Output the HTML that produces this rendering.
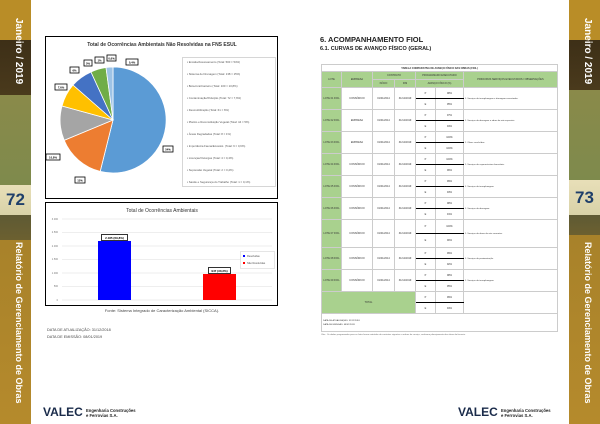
<!DOCTYPE html><html><head><meta charset="utf-8"><style>
*{margin:0;padding:0;box-sizing:border-box}
body{width:600px;height:424px;background:#fff;position:relative;overflow:hidden;font-family:"Liberation Sans",sans-serif;color:#333}
.sb{position:absolute;top:0;width:31px;height:424px;overflow:hidden}
.vt{position:absolute;color:#fff;font-weight:bold;white-space:nowrap;transform-origin:0 0;transform:rotate(90deg)}
.pg{position:absolute;color:#1f3f6a;font-weight:bold;font-size:17px}
.a{position:absolute}
table{border-collapse:collapse;position:absolute;left:321px;top:64px;width:237px;font-size:2.5px}
td{border:0.5px solid #ccc;text-align:center;vertical-align:middle;padding:0;color:#333}
.g{background:#a9d18e}
.t{text-align:left;font-size:2.2px;padding-left:1px}
</style></head><body>
<div class="sb" style="left:0;background:linear-gradient(180deg,#b98d27 0,#b98d27 40px,#3d2f17 40px,#4a3a1c 95px,#8a8a4a 95px,#7e8a4c 185px,#e8dfb8 185px,#d8d2a8 215px,#5e5a34 215px,#6c6030 240px,#a8822a 240px,#b58a2c 424px)">
<div class="vt" style="left:24px;top:18px;font-size:10px">Janeiro / 2019</div>
<div class="pg" style="left:6px;top:190px">72</div>
<div class="vt" style="left:24px;top:242px;font-size:9px">Relatório de Gerenciamento de Obras</div></div>
<div class="sb" style="left:569px;background:linear-gradient(180deg,#b98d27 0,#b98d27 40px,#3d2f17 40px,#4a3a1c 90px,#8a8a4a 90px,#7e8a4c 180px,#e8dfb8 180px,#d8d2a8 215px,#5e5a34 215px,#6c6030 235px,#a8822a 235px,#b58a2c 424px)">
<div class="vt" style="left:24px;top:18px;font-size:10px">Janeiro / 2019</div>
<div class="pg" style="left:6px;top:188px">73</div>
<div class="vt" style="left:24px;top:242px;font-size:9px">Relatório de Gerenciamento de Obras</div></div>

<svg class="a" style="left:0;top:0" width="600" height="424">
<rect x="45.5" y="36.5" width="232" height="162" fill="#fff" stroke="#000"/>
<text x="162" y="46" font-size="5" text-anchor="middle" font-weight="bold" fill="#333">Total de Ocorrências Ambientais Não Resolvidas na FNS ESUL</text>
<g stroke="#fff" stroke-width="0.8">
<path d="M113,120 L113,67 A53,53 0 1 1 100.2,171.4Z" fill="#5b9bd5"/>
<path d="M113,120 L100.2,171.4 A53,53 0 0 1 64.2,140.3Z" fill="#ed7d31"/>
<path d="M113,120 L64.2,140.3 A53,53 0 0 1 62,106Z" fill="#a5a5a5"/>
<path d="M113,120 L62,106 A53,53 0 0 1 73,85Z" fill="#ffc000"/>
<path d="M113,120 L73,85 A53,53 0 0 1 91,72Z" fill="#4472c4"/>
<path d="M113,120 L91,72 A53,53 0 0 1 106,67.5Z" fill="#70ad47"/>
<path d="M113,120 L106,67.5 A53,53 0 0 1 113,67Z" fill="#9dc3e6"/>
</g>
<g fill="#fff" stroke="#000" stroke-width="0.8">
<rect x="163" y="146" width="10" height="6"/><rect x="75" y="177" width="10" height="6"/><rect x="46" y="154" width="14" height="6"/><rect x="55" y="84" width="12" height="6"/><rect x="70" y="67" width="9" height="6"/><rect x="84" y="60" width="8" height="6"/><rect x="95" y="57" width="9" height="6"/><rect x="107" y="55" width="9" height="6"/><rect x="126" y="59" width="12" height="6"/>
</g>
<g font-size="2.8" fill="#000" text-anchor="middle" font-weight="bold">
<text x="168" y="150.5">54%</text><text x="80" y="181.5">15%</text><text x="53" y="158.5">10,8%</text><text x="61" y="88.5">7,6%</text><text x="74.5" y="71.5">6%</text><text x="88" y="64.5">5%</text><text x="99.5" y="61.5">1%</text><text x="111.5" y="59.5">0,6%</text><text x="132" y="63.5">0,4%</text>
</g>
<rect x="182.5" y="57.5" width="93" height="129" fill="none" stroke="#bbb" stroke-width="0.6"/>
<g font-size="2.8" fill="#555">
<text x="187" y="63">▪ Erosão/Assoreamento (Total: 500 = 54%)</text>
<text x="187" y="75">▪ Sistema de Drenagem (Total: 138 = 15%)</text>
<text x="187" y="87">▪ Bota-fora/Canteiro (Total: 100 = 10,8%)</text>
<text x="187" y="99">▪ Contaminação/Poluição (Total: 72 = 7,6%)</text>
<text x="187" y="111">▪ Desmobilização (Total: 61 = 6%)</text>
<text x="187" y="123">▪ Plantio e Reconstituição Vegetal (Total: 44 = 5%)</text>
<text x="187" y="135">▪ Áreas Degradadas (Total: 8 = 1%)</text>
<text x="187" y="147">▪ Importância Fauna/Ecossist. (Total: 6 = 0,6%)</text>
<text x="187" y="159">▪ Licenças/Outorgas (Total: 4 = 0,4%)</text>
<text x="187" y="171">▪ Supressão Vegetal (Total: 2 = 0,2%)</text>
<text x="187" y="183">▪ Saúde e Segurança do Trabalho (Total: 1 = 0,1%)</text>
</g>
<rect x="45.5" y="202.5" width="232" height="103" fill="#fff" stroke="#000"/>
<text x="162" y="212" font-size="5" text-anchor="middle" fill="#333">Total de Ocorrências Ambientais</text>
<g stroke="#ddd" stroke-width="0.5">
<line x1="62" x2="272" y1="219" y2="219"/><line x1="62" x2="272" y1="232.5" y2="232.5"/><line x1="62" x2="272" y1="246" y2="246"/><line x1="62" x2="272" y1="259.5" y2="259.5"/><line x1="62" x2="272" y1="273" y2="273"/><line x1="62" x2="272" y1="286.5" y2="286.5"/><line x1="62" x2="272" y1="300" y2="300"/></g>
<g font-size="2.5" fill="#777" text-anchor="end"><text x="58" y="220">3.000</text><text x="58" y="233">2.500</text><text x="58" y="247">2.000</text><text x="58" y="260">1.500</text><text x="58" y="274">1.000</text><text x="58" y="287">500</text><text x="58" y="301">0</text></g>
<rect x="98" y="241" width="33" height="59" fill="#0000ff"/>
<rect x="203" y="274" width="33" height="26" fill="#ff0000"/>
<rect x="101.5" y="234.5" width="26" height="6" fill="#fff" stroke="#000" stroke-width="0.8"/><text x="114.5" y="239" font-size="3" text-anchor="middle" font-weight="bold">2.185 (69,8%)</text>
<rect x="208.5" y="267.5" width="22" height="6" fill="#fff" stroke="#000" stroke-width="0.8"/><text x="219.5" y="272" font-size="3" text-anchor="middle" font-weight="bold">947 (30,2%)</text>
<rect x="240.5" y="251.5" width="34" height="17" fill="#fff" stroke="#ccc" stroke-width="0.5"/>
<rect x="243" y="255" width="2" height="2" fill="#00f"/><text x="247" y="257" font-size="2.6" fill="#555">Resolvidas</text>
<rect x="243" y="262" width="2" height="2" fill="#f00"/><text x="247" y="264" font-size="2.6" fill="#555">Não Resolvidas</text>
<text x="162" y="312" font-size="4" text-anchor="middle" fill="#444">Fonte: Sistema Integrado de Caracterização Ambiental (SICCA).</text>
<text x="47" y="331" font-size="3.8" fill="#444">DATA DE ATUALIZAÇÃO: 31/12/2018</text>
<text x="47" y="338" font-size="3.8" fill="#444">DATA DE EMISSÃO: 08/01/2019</text>
<text x="43" y="416" font-size="12" font-weight="bold" fill="#1a2b4a">VALEC</text>
<text x="86" y="412" font-size="4.2" font-weight="bold" fill="#222">Engenharia Construções</text>
<text x="86" y="417" font-size="4.2" font-weight="bold" fill="#222">e Ferrovias S.A.</text>
<text x="458" y="416" font-size="12" font-weight="bold" fill="#1a2b4a">VALEC</text>
<text x="501" y="412" font-size="4.2" font-weight="bold" fill="#222">Engenharia Construções</text>
<text x="501" y="417" font-size="4.2" font-weight="bold" fill="#222">e Ferrovias S.A.</text>
<text x="320" y="42" font-size="7.5" font-weight="bold" fill="#222">6. ACOMPANHAMENTO FIOL</text>
<text x="320" y="50" font-size="5.5" font-weight="bold" fill="#222">6.1.   CURVAS DE AVANÇO FÍSICO (GERAL)</text>
<text x="321" y="335" font-size="2.2" fill="#666">Obs.: Os dados programados para os lotes foram extraídos de contratos vigentes e ordens de serviço, conforme planejamento das obras da ferrovia.</text>
</svg>

<table>
<tr style="height:7px"><td colspan="7" style="font-weight:bold">TABELA COMPARATIVA DE AVANÇO FÍSICO DAS OBRAS (FIOL)</td></tr>
<tr style="height:8px"><td class="g" rowspan="2" style="width:20px">LOTE</td><td class="g" rowspan="2" style="width:31px">EMPRESA</td><td class="g" colspan="2">CONTRATO</td><td class="g" colspan="2">PROGRAMADO EXECUTADO</td><td class="g" rowspan="2">PRINCIPAIS SERVIÇOS EXECUTADOS / OBSERVAÇÕES</td></tr>
<tr style="height:8px"><td class="g" style="width:22px">INÍCIO</td><td class="g" style="width:21px">FIM</td><td class="g" colspan="2" style="width:40px">AVANÇO FÍSICO (%)</td></tr>
<tr style="height:11px"><td class="g" rowspan="2">LOTE 01 FIOL</td><td rowspan="2">CONSÓRCIO</td><td rowspan="2">01/01/2014</td><td rowspan="2">31/12/2019</td><td style="width:20px;border-bottom:1px solid #000">P</td><td style="border-bottom:1px solid #000">98%</td><td class="t" rowspan="2">1. Serviços de terraplenagem e drenagem executados.</td></tr><tr style="height:11px"><td>E</td><td>95%</td></tr>
<tr style="height:11px"><td class="g" rowspan="2">LOTE 02 FIOL</td><td rowspan="2">EMPRESA</td><td rowspan="2">01/01/2014</td><td rowspan="2">31/12/2019</td><td style="border-bottom:1px solid #000">P</td><td style="border-bottom:1px solid #000">97%</td><td class="t" rowspan="2">1. Serviços de drenagem e obras de arte especiais.</td></tr><tr style="height:11px"><td>E</td><td>94%</td></tr>
<tr style="height:11px"><td class="g" rowspan="2">LOTE 03 FIOL</td><td rowspan="2">EMPRESA</td><td rowspan="2">01/01/2014</td><td rowspan="2">31/12/2019</td><td style="border-bottom:1px solid #000">P</td><td style="border-bottom:1px solid #000">100%</td><td class="t" rowspan="2">1. Obras concluídas.</td></tr><tr style="height:11px"><td>E</td><td>100%</td></tr>
<tr style="height:11px"><td class="g" rowspan="2">LOTE 04 FIOL</td><td rowspan="2">CONSÓRCIO</td><td rowspan="2">01/01/2014</td><td rowspan="2">31/12/2019</td><td style="border-bottom:1px solid #000">P</td><td style="border-bottom:1px solid #000">100%</td><td class="t" rowspan="2">1. Serviços de superestrutura ferroviária.</td></tr><tr style="height:11px"><td>E</td><td>96%</td></tr>
<tr style="height:11px"><td class="g" rowspan="2">LOTE 05 FIOL</td><td rowspan="2">CONSÓRCIO</td><td rowspan="2">01/01/2014</td><td rowspan="2">31/12/2019</td><td style="border-bottom:1px solid #000">P</td><td style="border-bottom:1px solid #000">99%</td><td class="t" rowspan="2">1. Serviços de terraplenagem.</td></tr><tr style="height:11px"><td>E</td><td>93%</td></tr>
<tr style="height:11px"><td class="g" rowspan="2">LOTE 06 FIOL</td><td rowspan="2">CONSÓRCIO</td><td rowspan="2">01/01/2014</td><td rowspan="2">31/12/2019</td><td style="border-bottom:1px solid #000">P</td><td style="border-bottom:1px solid #000">98%</td><td class="t" rowspan="2">1. Serviços de drenagem.</td></tr><tr style="height:11px"><td>E</td><td>91%</td></tr>
<tr style="height:14px"><td class="g" rowspan="2">LOTE 07 FIOL</td><td rowspan="2">CONSÓRCIO</td><td rowspan="2">01/01/2014</td><td rowspan="2">31/12/2019</td><td style="border-bottom:1px solid #000">P</td><td style="border-bottom:1px solid #000">100%</td><td class="t" rowspan="2">1. Serviços de obras de arte correntes.</td></tr><tr style="height:14px"><td>E</td><td>90%</td></tr>
<tr style="height:11px"><td class="g" rowspan="2">LOTE 08 FIOL</td><td rowspan="2">CONSÓRCIO</td><td rowspan="2">01/01/2014</td><td rowspan="2">31/12/2019</td><td style="border-bottom:1px solid #000">P</td><td style="border-bottom:1px solid #000">99%</td><td class="t" rowspan="2">1. Serviços de pavimentação.</td></tr><tr style="height:11px"><td>E</td><td>92%</td></tr>
<tr style="height:11px"><td class="g" rowspan="2">LOTE 09 FIOL</td><td rowspan="2">CONSÓRCIO</td><td rowspan="2">01/01/2014</td><td rowspan="2">31/12/2019</td><td style="border-bottom:1px solid #000">P</td><td style="border-bottom:1px solid #000">98%</td><td class="t" rowspan="2">1. Serviços de terraplenagem.</td></tr><tr style="height:11px"><td>E</td><td>95%</td></tr>
<tr style="height:11px"><td class="g" colspan="4" rowspan="2">TOTAL</td><td style="border-bottom:1px solid #000">P</td><td style="border-bottom:1px solid #000">99%</td><td rowspan="2"></td></tr><tr style="height:11px"><td>E</td><td>94%</td></tr>
<tr style="height:18px"><td colspan="7" class="t" style="text-align:left">DATA DE ATUALIZAÇÃO: 31/12/2018<br><br>DATA DE EMISSÃO: 08/01/2019</td></tr>
</table>
</body></html>
